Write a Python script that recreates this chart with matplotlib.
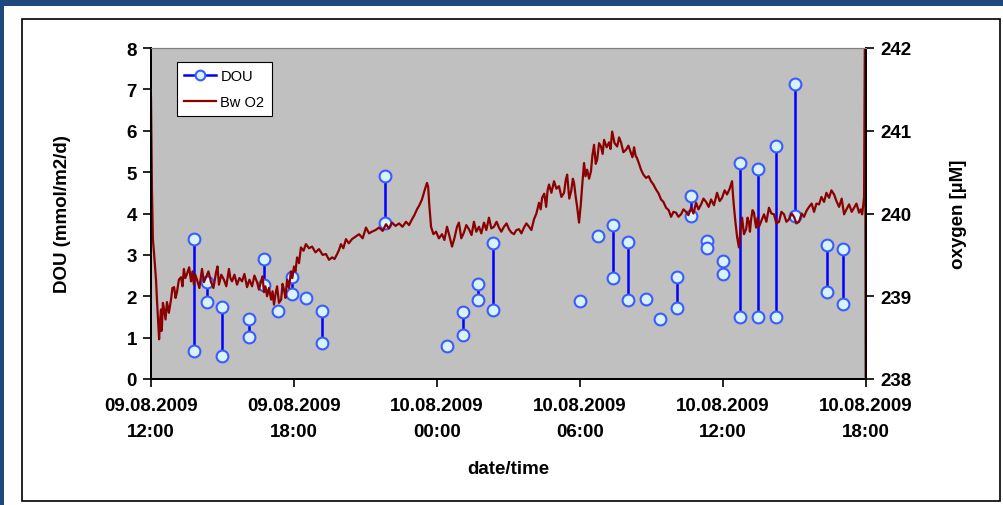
import numpy as np
import pandas as pd
import matplotlib
matplotlib.use("Agg")
import matplotlib.pyplot as plt
import matplotlib.dates as mdates
from matplotlib.patches import Rectangle

plt.rcParams['font.family'] = ['Liberation Sans', 'DejaVu Sans']

start = pd.Timestamp("2009-08-09 12:00")

# DOU measurements: hours after start, upper and lower value of each pair (nan = single value)
dou_hours = [1.80, 2.35, 2.98, 4.11, 4.74, 5.33, 5.92, 6.50, 7.18, 9.82,
             12.42, 13.09, 13.72, 14.35, 18.00, 18.76, 19.39, 20.02, 20.77, 21.36,
             22.07, 22.66, 23.33, 24.00, 24.72, 25.47, 26.23, 27.02, 28.37, 29.04]
dou_high = [3.38, 2.35, 1.73, 1.44, 2.89, 1.64, 2.46, 1.96, 1.64, 4.90,
            0.80, 1.63, 2.29, 3.28, 1.88, 3.45, 3.73, 3.30, 1.94, 1.44,
            2.46, 4.43, 3.33, 2.84, 5.23, 5.08, 5.64, 7.13, 3.23, 3.15]
dou_low = [0.68, 1.86, 0.56, 1.01, 2.26, np.nan, 2.05, np.nan, 0.86, 3.78,
           np.nan, 1.06, 1.90, 1.66, np.nan, np.nan, 2.43, 1.90, np.nan, np.nan,
           1.71, 3.95, 3.17, 2.53, 1.49, 1.51, 1.49, 3.93, 2.10, 1.81]

# bottom water O2 logger: hours after start and concentration (µM)
o2_hours = [
    0.00, 0.04, 0.08, 0.13, 0.21, 0.25, 0.34, 0.38, 0.42, 0.44,
    0.46, 0.50, 0.55, 0.61, 0.67, 0.75, 0.84, 0.90, 0.97, 1.03,
    1.09, 1.17, 1.26, 1.32, 1.38, 1.44, 1.51, 1.60, 1.68, 1.74,
    1.80, 1.86, 1.93, 2.03, 2.14, 2.22, 2.31, 2.41, 2.52, 2.62,
    2.73, 2.79, 2.85, 2.95, 3.06, 3.16, 3.27, 3.33, 3.40, 3.50,
    3.61, 3.71, 3.82, 3.92, 4.03, 4.13, 4.24, 4.34, 4.45, 4.53,
    4.62, 4.68, 4.74, 4.80, 4.87, 4.95, 5.04, 5.10, 5.16, 5.22,
    5.29, 5.37, 5.46, 5.52, 5.58, 5.64, 5.71, 5.79, 5.87, 5.93,
    6.00, 6.06, 6.13, 6.21, 6.29, 6.40, 6.50, 6.63, 6.76, 6.90,
    7.05, 7.20, 7.34, 7.47, 7.60, 7.70, 7.81, 7.89, 7.97, 8.07,
    8.18, 8.30, 8.43, 8.58, 8.73, 8.88, 9.02, 9.15, 9.27, 9.42,
    9.57, 9.72, 9.86, 9.98, 10.11, 10.26, 10.41, 10.55, 10.70, 10.83,
    10.95, 11.05, 11.16, 11.26, 11.37, 11.48, 11.58, 11.63, 11.67, 11.75,
    11.85, 11.96, 12.08, 12.21, 12.31, 12.42, 12.52, 12.63, 12.73, 12.84,
    12.92, 13.02, 13.13, 13.23, 13.34, 13.45, 13.55, 13.65, 13.76, 13.86,
    13.97, 14.07, 14.18, 14.28, 14.39, 14.50, 14.60, 14.70, 14.81, 14.92,
    15.02, 15.12, 15.23, 15.33, 15.44, 15.54, 15.65, 15.75, 15.86, 15.96,
    16.07, 16.17, 16.28, 16.35, 16.41, 16.50, 16.58, 16.64, 16.70, 16.80,
    16.91, 17.01, 17.12, 17.22, 17.33, 17.40, 17.46, 17.55, 17.63, 17.70,
    17.75, 17.82, 17.88, 17.96, 18.03, 18.09, 18.17, 18.23, 18.30, 18.38,
    18.46, 18.52, 18.59, 18.66, 18.72, 18.80, 18.88, 18.95, 19.01, 19.12,
    19.22, 19.28, 19.35, 19.45, 19.56, 19.64, 19.72, 19.82, 19.93, 20.03,
    20.14, 20.20, 20.27, 20.33, 20.39, 20.48, 20.56, 20.66, 20.77, 20.88,
    20.98, 21.08, 21.19, 21.30, 21.40, 21.50, 21.61, 21.72, 21.82, 21.92,
    22.03, 22.13, 22.24, 22.34, 22.45, 22.55, 22.66, 22.76, 22.87, 22.97,
    23.08, 23.18, 23.29, 23.40, 23.50, 23.62, 23.75, 23.86, 23.96, 24.07,
    24.17, 24.28, 24.38, 24.42, 24.46, 24.52, 24.59, 24.63, 24.67, 24.73,
    24.80, 24.88, 24.97, 25.03, 25.09, 25.13, 25.18, 25.24, 25.30, 25.35,
    25.39, 25.45, 25.51, 25.62, 25.72, 25.82, 25.93, 26.03, 26.14, 26.24,
    26.35, 26.45, 26.56, 26.66, 26.77, 26.88, 26.98, 27.08, 27.19, 27.30,
    27.40, 27.50, 27.61, 27.72, 27.82, 27.92, 28.03, 28.13, 28.24, 28.34,
    28.45, 28.55, 28.66, 28.76, 28.87, 28.98, 29.08, 29.18, 29.29, 29.40,
    29.50, 29.60, 29.71, 29.78, 29.84, 29.92, 29.96, 29.99]
o2_um = [
    241.41, 240.29, 239.69, 239.51, 239.20, 238.96, 238.48, 238.70, 238.84, 238.58,
    238.64, 238.92, 238.84, 238.72, 238.93, 238.80, 238.96, 239.10, 239.11, 238.98,
    239.05, 239.20, 239.23, 239.12, 239.33, 239.22, 239.27, 239.35, 239.18, 239.30,
    239.14, 239.26, 239.20, 239.10, 239.33, 239.17, 239.23, 239.30, 239.17, 239.10,
    239.29, 239.36, 239.14, 239.26, 239.20, 239.12, 239.33, 239.22, 239.18, 239.26,
    239.14, 239.22, 239.18, 239.27, 239.11, 239.20, 239.12, 239.25, 239.17, 239.08,
    239.18, 239.24, 239.05, 239.12, 239.00, 239.10, 238.96, 239.06, 238.90, 239.02,
    239.12, 238.92, 238.96, 239.15, 239.08, 238.98, 239.20, 239.10, 239.30, 239.22,
    239.36, 239.30, 239.47, 239.40, 239.59, 239.55, 239.63, 239.58, 239.60, 239.53,
    239.57, 239.50, 239.51, 239.44, 239.47, 239.45, 239.51, 239.56, 239.63, 239.58,
    239.69, 239.64, 239.69, 239.72, 239.75, 239.70, 239.83, 239.76, 239.78, 239.80,
    239.83, 239.79, 239.87, 239.82, 239.89, 239.85, 239.88, 239.84, 239.90, 239.86,
    239.93, 239.98, 240.05, 240.10, 240.17, 240.28, 240.37, 240.32, 240.13, 239.84,
    239.75, 239.78, 239.70, 239.75, 239.68, 239.84, 239.73, 239.60, 239.70, 239.84,
    239.89, 239.70, 239.77, 239.86, 239.81, 239.74, 239.90, 239.78, 239.84, 239.76,
    239.89, 239.80, 239.95, 239.82, 239.84, 239.90, 239.83, 239.78, 239.84, 239.88,
    239.81, 239.77, 239.75, 239.80, 239.81, 239.76, 239.83, 239.88, 239.84, 239.80,
    239.93, 240.00, 240.13, 240.05, 240.19, 240.24, 240.08, 240.28, 240.35, 240.25,
    240.39, 240.30, 240.33, 240.20, 240.25, 240.40, 240.47, 240.18, 240.27, 240.42,
    240.37, 240.20, 240.08, 239.89, 240.10, 240.33, 240.61, 240.45, 240.53, 240.42,
    240.51, 240.70, 240.83, 240.60, 240.65, 240.85, 240.81, 240.72, 240.89, 240.80,
    240.86, 240.78, 240.99, 240.85, 240.81, 240.92, 240.86, 240.74, 240.77, 240.82,
    240.73, 240.68, 240.80, 240.70, 240.67, 240.60, 240.53, 240.47, 240.43, 240.45,
    240.39, 240.35, 240.29, 240.24, 240.17, 240.14, 240.07, 240.04, 239.96, 240.02,
    240.01, 239.96, 239.99, 240.05, 240.02, 239.98, 240.07, 240.00, 240.13, 240.05,
    240.11, 240.18, 240.14, 240.08, 240.17, 240.10, 240.25, 240.15, 240.19, 240.28,
    240.23, 240.30, 240.39, 240.22, 240.08, 239.90, 239.72, 239.65, 239.59, 239.80,
    239.95, 239.75, 239.81, 239.95, 239.89, 239.78, 239.93, 240.04, 240.01, 239.90,
    239.83, 239.95, 239.84, 239.92, 239.99, 239.90, 240.07, 240.00, 239.99, 239.88,
    239.90, 240.02, 239.99, 239.90, 239.93, 240.00, 239.96, 239.88, 239.90, 240.00,
    239.96, 240.03, 240.08, 240.12, 240.02, 240.12, 240.11, 240.20, 240.14, 240.25,
    240.19, 240.28, 240.23, 240.15, 240.08, 240.18, 239.99, 240.05, 240.11, 240.02,
    240.07, 240.12, 240.01, 240.05, 239.99, 240.20, 242.60, 237.40]

xtick_hours = [0, 6, 12, 18, 24, 30]


def to_time(hours):
    return start + pd.to_timedelta(np.asarray(hours, dtype=float), unit="h")


# pairs become separate segments (nan breaks the line)
seg_h, seg_v = [], []
for h, hi, lo in zip(dou_hours, dou_high, dou_low):
    seg_h += [h, h, np.nan]
    seg_v += [hi, lo, np.nan]

fig = plt.figure(figsize=(10.04, 5.06), dpi=100)
fig.patches.append(Rectangle((0, 0), 1, 1, transform=fig.transFigure,
                             facecolor="#1f497d", edgecolor="none", zorder=-3))
fig.patches.append(Rectangle((4 / 1004, 0), 1, 1 - 7 / 506, transform=fig.transFigure,
                             facecolor="white", edgecolor="none", zorder=-2))
fig.patches.append(Rectangle((22 / 1004, 4 / 506), 978 / 1004, 482 / 506,
                             transform=fig.transFigure, facecolor="none",
                             edgecolor="black", linewidth=1.2, zorder=-1))

ax = fig.add_axes([151 / 1004, 1 - 380 / 506, 715 / 1004, 331 / 506])
ax.set_facecolor("#c0c0c0")
ax2 = ax.twinx()

dou_line, = ax.plot(to_time(seg_h), seg_v, color="#0000ff", linewidth=1.8,
                    marker="o", markersize=8.5, markerfacecolor="#d6f3ff",
                    markeredgecolor="#3a5cff", markeredgewidth=1.5, label="DOU")
o2_line, = ax2.plot(to_time(o2_hours), o2_um, color="#8b0000", linewidth=1.6,
                    label="Bw O2")

ax.set_xlim(to_time([0])[0], to_time([30])[0])
ax.set_ylim(0, 8)
ax2.set_ylim(238, 242)
ax.set_yticks(range(0, 9))
ax2.set_yticks(range(238, 243))
ax.set_xticks(to_time(xtick_hours))
ax.xaxis.set_major_formatter(mdates.DateFormatter("%d.%m.%Y\n%H:%M"))

fs = 13.5
for a in (ax, ax2):
    a.tick_params(direction="out", length=6, width=1.2, labelsize=fs, pad=4)
    for lab in a.get_xticklabels() + a.get_yticklabels():
        lab.set_fontweight("bold")
    for side in ("left", "right", "bottom"):
        a.spines[side].set_linewidth(1.4)
    a.spines["top"].set_color("#808080")
for lab in ax.get_xticklabels():
    lab.set_linespacing(1.7)
ax.tick_params(axis="x", pad=7)

ax.set_ylabel("DOU (mmol/m2/d)", fontsize=fs, fontweight="bold", labelpad=40)
ax2.set_ylabel("oxygen [µM]", fontsize=fs, fontweight="bold", rotation=90,
               labelpad=28)
ax.set_xlabel("date/time", fontsize=fs, fontweight="bold", labelpad=14)

leg = ax2.legend([dou_line, o2_line], ["DOU", "Bw O2"], loc="upper left",
                 bbox_to_anchor=(0.036, 0.958), fontsize=10.5, fancybox=False,
                 framealpha=1, edgecolor="black", borderpad=0.5,
                 handlelength=2.2, handletextpad=0.3, labelspacing=0.8,
                 borderaxespad=0)
leg.get_frame().set_linewidth(0.8)
for h in leg.legend_handles:
    if h.get_marker() == "o":
        h.set_markersize(7)

fig.savefig("out.png", dpi=100)
